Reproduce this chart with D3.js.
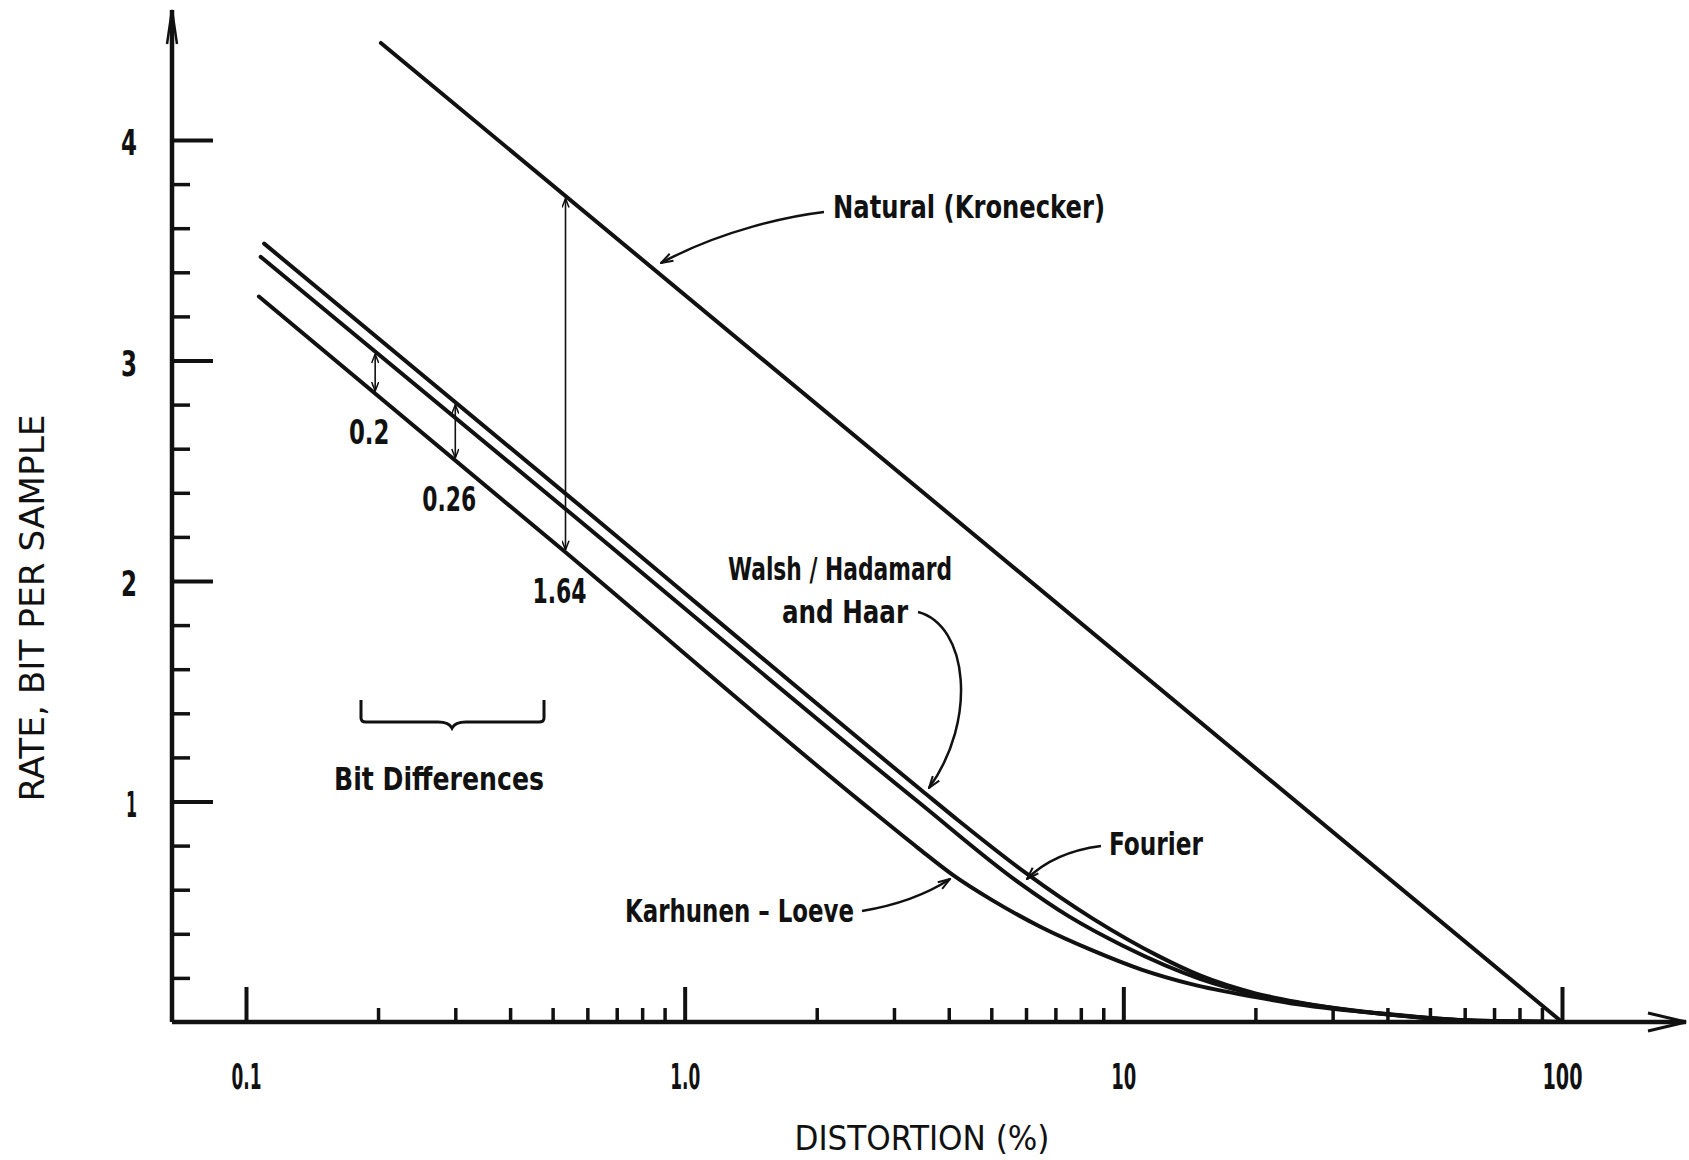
<!DOCTYPE html>
<html>
<head>
<meta charset="utf-8">
<script src="https://cdn.jsdelivr.net/npm/d3@7"></script>
<style>
  body { margin: 0; background: #fff; }
  svg { display: block; background: #fff; }
  text {
    font-family: 'Liberation Sans Narrow', 'DejaVu Sans Condensed', 'DejaVu Sans', sans-serif;
    font-weight: bold;
    fill: #111;
  }
  text.title { font-weight: normal; }
</style>
</head>
<body>
<svg width="1689" height="1160"></svg>
<script>

// ---- data (distortion in %, rate in bit/sample) ----
var distortionMajor = [0.1, 1, 10, 100];
var distortionLabels = ["0.1", "1.0", "10", "100"];
var rateMajor = [1, 2, 3, 4];
var rateLabels = ["1", "2", "3", "4"];

var naturalPts = [[0.203, 4.44], [100, 0]];
var walshPts = [[0.11, 3.53], [0.525, 2.41], [3.47, 1.05], [4.2, 0.915], [6, 0.675], [8.5, 0.47],
                [12, 0.30], [15, 0.21], [20, 0.13], [25, 0.09], [40, 0.036], [60, 0.008], [100, 0]];
var fourierPts = [[0.108, 3.47], [0.525, 2.34], [3.4, 1.0], [5.8, 0.63], [7.5, 0.48], [10, 0.345],
                  [15, 0.195], [20, 0.125], [25, 0.087], [40, 0.034], [60, 0.008], [100, 0]];
var kltPts = [[0.107, 3.29], [0.535, 2.13], [2.5, 1.005], [3.4, 0.79], [4.1, 0.665], [5, 0.555],
              [6.5, 0.43], [8.5, 0.325], [11, 0.238], [14.3, 0.172], [20, 0.113], [25, 0.08],
              [40, 0.035], [60, 0.008], [100, 0]];

// bit differences marked with double arrows
var diffAt = [0.197, 0.30, 0.535];
var diffLabels = ["0.2", "0.26", "1.64"];
var diffTop = ["fourier", "walsh", "natural"];
var diffBottom = ["klt", "klt", "klt"];

var series = { natural: naturalPts, walsh: walshPts, fourier: fourierPts, klt: kltPts };

// ---- layout ----
var svg = d3.select("svg");
var x0 = 172, xEnd = 1686, yTop = 10;

var x = d3.scaleLog().domain([0.1, 100]).range([246, 1562]);
var y = d3.scaleLinear().domain([0, 4]).range([1022, 140]);

var defs = svg.append("defs");
defs.append("marker")
    .attr("id", "head")
    .attr("viewBox", "0 0 14 10")
    .attr("refX", 13).attr("refY", 5)
    .attr("markerWidth", 14).attr("markerHeight", 10)
    .attr("markerUnits", "userSpaceOnUse")
    .attr("orient", "auto")
    .append("path")
    .attr("d", "M1,1 L13,5 L1,9")
    .attr("fill", "none").attr("stroke", "#111").attr("stroke-width", 2);

defs.append("marker")
    .attr("id", "tip")
    .attr("viewBox", "0 0 10 8")
    .attr("refX", 9.5).attr("refY", 4)
    .attr("markerWidth", 10).attr("markerHeight", 8)
    .attr("markerUnits", "userSpaceOnUse")
    .attr("orient", "auto-start-reverse")
    .append("path")
    .attr("d", "M0.5,0.5 L9.5,4 L0.5,7.5")
    .attr("fill", "none").attr("stroke", "#111").attr("stroke-width", 1.5);

// squeeze text to the narrow lettering of the original
function label(g, txt, cx, cy, width, anchor, size) {
    return g.append("text")
        .attr("x", cx).attr("y", cy)
        .attr("dy", "0.36em")
        .attr("text-anchor", anchor || "start")
        .attr("font-size", size || 31)
        .attr("textLength", width)
        .attr("lengthAdjust", "spacingAndGlyphs")
        .text(txt);
}

function isMajor(d, list) {
    return list.some(function (m) { return Math.abs(d - m) / m < 1e-6; });
}

// ---- y axis ----
var yMinor = y.ticks(20).filter(function (d) { return d > 0 && !isMajor(d, rateMajor); });

var gyMinor = svg.append("g")
    .attr("transform", "translate(" + x0 + ",0)")
    .call(d3.axisLeft(y).tickValues(yMinor).tickSizeInner(-18).tickSizeOuter(0).tickFormat(""));
gyMinor.select(".domain").remove();
gyMinor.selectAll(".tick line").attr("stroke", "#111").attr("stroke-width", 3.5);

var gy = svg.append("g")
    .attr("transform", "translate(" + x0 + ",0)")
    .call(d3.axisLeft(y).tickValues(rateMajor)
        .tickFormat(function (d, i) { return rateLabels[i]; })
        .tickSizeInner(-41).tickSizeOuter(0).tickPadding(35));
gy.select(".domain").remove();
gy.selectAll(".tick line").attr("stroke", "#111").attr("stroke-width", 4);
gy.selectAll(".tick text")
    .attr("font-size", 35)
    .attr("dy", "0.42em")
    .attr("textLength", function (d) { return d === 1 ? 11 : 16; })
    .attr("lengthAdjust", "spacingAndGlyphs");

// ---- x axis ----
var xMinor = x.ticks().filter(function (d) { return !isMajor(d, distortionMajor); });

var gxMinor = svg.append("g")
    .attr("transform", "translate(0," + y(0) + ")")
    .call(d3.axisBottom(x).tickValues(xMinor).tickSizeInner(-14).tickSizeOuter(0).tickFormat(""));
gxMinor.select(".domain").remove();
gxMinor.selectAll(".tick line").attr("stroke", "#111").attr("stroke-width", 3.5);

var gx = svg.append("g")
    .attr("transform", "translate(0," + y(0) + ")")
    .call(d3.axisBottom(x).tickValues(distortionMajor)
        .tickFormat(function (d, i) { return distortionLabels[i]; })
        .tickSizeInner(-35).tickSizeOuter(0).tickPadding(42));
gx.select(".domain").remove();
gx.selectAll(".tick line").attr("stroke", "#111").attr("stroke-width", 4);
gx.selectAll(".tick text")
    .attr("font-size", 35)
    .attr("textLength", function (d, i) { return [30, 30, 25, 40][i]; })
    .attr("lengthAdjust", "spacingAndGlyphs");

// axis lines with the arrow heads
svg.append("path")
    .attr("d", "M" + x0 + "," + y(0) + " L" + xEnd + "," + y(0) + " M" + x0 + "," + y(0) + " L" + x0 + "," + yTop)
    .attr("fill", "none").attr("stroke", "#111").attr("stroke-width", 4.5);
svg.append("path")
    .attr("d", "M" + (xEnd - 38) + "," + (y(0) - 9) + " L" + xEnd + "," + y(0) + " L" + (xEnd - 38) + "," + (y(0) + 9))
    .attr("fill", "none").attr("stroke", "#111").attr("stroke-width", 3);
svg.append("path")
    .attr("d", "M" + (x0 - 5) + "," + (yTop + 34) + " L" + x0 + "," + yTop + " L" + (x0 + 5) + "," + (yTop + 34))
    .attr("fill", "none").attr("stroke", "#111").attr("stroke-width", 2.5);

// axis titles
label(svg, "DISTORTION  (%)", 922, 1138, 255, "middle", 34).attr("class", "title");
label(svg, "RATE,  BIT  PER  SAMPLE", 0, 0, 387, "middle", 33)
    .attr("class", "title")
    .attr("x", null).attr("y", null)
    .attr("transform", "translate(32,608) rotate(-90)");

// ---- curves ----
var line = d3.line()
    .x(function (d) { return x(d[0]); })
    .y(function (d) { return y(d[1]); })
    .curve(d3.curveMonotoneX);

svg.selectAll("path.curve")
    .data([naturalPts, walshPts, fourierPts, kltPts])
    .enter().append("path")
    .attr("class", "curve")
    .attr("d", line)
    .attr("fill", "none")
    .attr("stroke", "#111")
    .attr("stroke-width", 4)
    .attr("stroke-linecap", "round");

// ---- bit difference arrows ----
function rateAt(pts, d) {
    var lx = Math.log10(d);
    for (var i = 0; i < pts.length - 1; i++) {
        var a = pts[i], b = pts[i + 1];
        if (d >= a[0] && d <= b[0]) {
            var t = (lx - Math.log10(a[0])) / (Math.log10(b[0]) - Math.log10(a[0]));
            return a[1] + t * (b[1] - a[1]);
        }
    }
    return 0;
}

diffAt.forEach(function (d, i) {
    var px = x(d);
    var yt = y(rateAt(series[diffTop[i]], d)) + 2.5;
    var yb = y(rateAt(series[diffBottom[i]], d)) - 2.5;
    svg.append("line")
        .attr("x1", px).attr("y1", yt)
        .attr("x2", px).attr("y2", yb)
        .attr("stroke", "#111").attr("stroke-width", 1.6)
        .attr("marker-start", "url(#tip)")
        .attr("marker-end", "url(#tip)");
    label(svg, diffLabels[i], px - 6, yb + 41, diffLabels[i].length * 13.5, "middle", 33);
});

// "Bit Differences" brace
svg.append("path")
    .attr("d", "M361,700 L361,718 Q361,722 366,722 L438,722 Q449,722 452,728 Q455,722 466,722 L539,722 Q544,722 544,718 L544,700")
    .attr("fill", "none").attr("stroke", "#111").attr("stroke-width", 3);
label(svg, "Bit  Differences", 334, 778, 210, "start", 32);

// ---- curve labels with pointer arrows ----
label(svg, "Natural  (Kronecker)", 833, 206, 272, "start", 32);
svg.append("path")
    .attr("d", "M824,212 C790,216 722,230 661,263")
    .attr("fill", "none").attr("stroke", "#111").attr("stroke-width", 2.5)
    .attr("marker-end", "url(#head)");

label(svg, "Walsh / Hadamard", 728, 568, 224, "start", 32);
label(svg, "and  Haar", 782, 611, 126, "start", 32);
svg.append("path")
    .attr("d", "M918,612 C968,625 978,720 929,788")
    .attr("fill", "none").attr("stroke", "#111").attr("stroke-width", 2.5)
    .attr("marker-end", "url(#head)");

label(svg, "Fourier", 1109, 843, 94, "start", 32);
svg.append("path")
    .attr("d", "M1101,846 C1070,850 1045,861 1027,879")
    .attr("fill", "none").attr("stroke", "#111").attr("stroke-width", 2.5)
    .attr("marker-end", "url(#head)");

label(svg, "Karhunen \u2013 Loeve", 625, 910, 229, "start", 32);
svg.append("path")
    .attr("d", "M862,911 C892,906 924,896 950,879")
    .attr("fill", "none").attr("stroke", "#111").attr("stroke-width", 2.5)
    .attr("marker-end", "url(#head)");

</script>
</body>
</html>
